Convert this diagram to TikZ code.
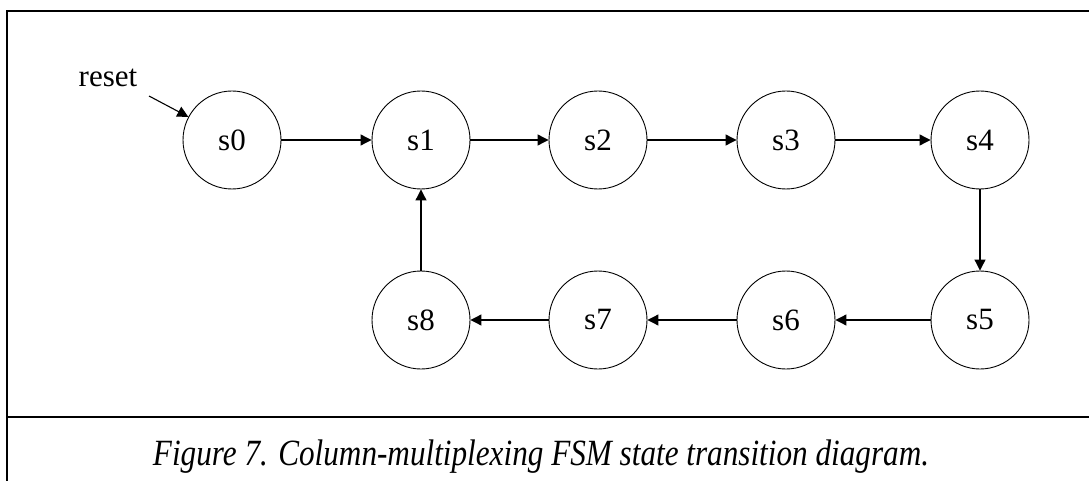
\documentclass[tikz,border=0pt]{standalone}
\usepackage{fontspec}
\usepackage{graphicx}
\setmainfont{Liberation Serif}
\usetikzlibrary{arrows.meta}
\begin{document}
\begin{tikzpicture}[x=1pt,y=-1pt]
  \tikzstyle{statenode}=[circle, draw, line width=0.9pt, minimum size=98pt, inner sep=0pt, font=\fontsize{31}{34}\selectfont]
  \tikzstyle{trans}=[line width=1.1pt, -{Triangle[length=11pt,width=11pt]}]
  \useasboundingbox (0,0) rectangle (1089,481);
  % Frame
  \draw[line width=2pt] (1089,11) -- (7,11) -- (7,481);
  \draw[line width=2pt] (7,417) -- (1089,417);
  % Node definitions
  \node[statenode] (s0) at (232,140) {s0};
  \node[statenode] (s1) at (421,140) {s1};
  \node[statenode] (s2) at (598,140) {s2};
  \node[statenode] (s3) at (786,140) {s3};
  \node[statenode] (s4) at (980,140) {s4};
  \node[statenode] (s5) at (980,320) {s5};
  \node[statenode] (s6) at (786,320) {s6};
  \node[statenode] (s7) at (598,320) {s7};
  \node[statenode] (s8) at (421,320) {s8};
  \node[font=\fontsize{31}{34}\selectfont] (reset) at (108,78) {reset};
  \coordinate (rst) at (149,96);

  % Edge definitions
  \draw[trans] (rst) -- (s0);
  \draw[trans] (s0) -- (s1);
  \draw[trans] (s1) -- (s2);
  \draw[trans] (s2) -- (s3);
  \draw[trans] (s3) -- (s4);
  \draw[trans] (s4) -- (s5);
  \draw[trans] (s5) -- (s6);
  \draw[trans] (s6) -- (s7);
  \draw[trans] (s7) -- (s8);
  \draw[trans] (s8) -- (s1);

  % Caption
  \node[font=\fontsize{37}{42}\selectfont\itshape, inner sep=0pt, anchor=base] (caption) at (541,465)
    {\resizebox{776pt}{\height}{Figure 7. Column-multiplexing FSM state transition diagram.}};
\end{tikzpicture}
\end{document}
